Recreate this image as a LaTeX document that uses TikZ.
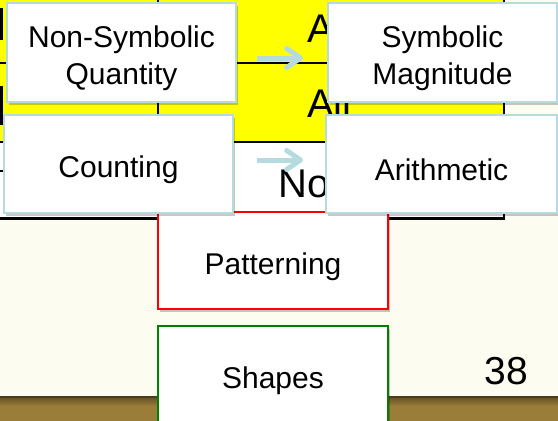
\documentclass[tikz,border=0pt]{standalone}
\usepackage{fontspec}
\setmainfont{Liberation Sans}
\usetikzlibrary{arrows.meta,shadows,calc}
\definecolor{cream}{HTML}{FDFCF1}
\definecolor{tyellow}{HTML}{FFFF00}
\definecolor{lblue}{HTML}{B5DBDF}
\definecolor{bbar}{HTML}{9B7D3A}
\definecolor{bdark}{HTML}{5E4C22}
\definecolor{sgreen}{HTML}{008000}
\definecolor{sred}{HTML}{FF0000}
\newcommand\boxfont{\fontsize{30}{37}\selectfont}
\newcommand\tabfont{\fontsize{40}{40}\selectfont}
\newcommand\lowr{\rule{0pt}{34pt}}
\begin{document}
\begin{tikzpicture}[x=1pt,y=-1pt,
  shadowed/.style={drop shadow={shadow xshift=2pt,shadow yshift=-3pt,opacity=0.22,fill=black}},
  lbbox/.style={rectangle,draw=lblue,line width=1.8pt,fill=white,inner sep=0pt,align=center,font=\boxfont,shadowed},
  redbox/.style={lbbox,draw=sred,line width=2.2pt},
  greenbox/.style={lbbox,draw=sgreen,line width=2.2pt},
  tabline/.style={line width=2pt,black},
  tabtxt/.style={inner sep=0pt,font=\tabfont,anchor=base west},
  arr/.style={draw=lblue,line width=5pt,-{Straight Barb[length=14pt,width=19pt,round]}}
]
\useasboundingbox (0,0) rectangle (558,421);
% background
\fill[cream] (0,0) rectangle (558,421);
% bottom bar
\fill[bbar] (0,396) rectangle (558,421);
\shade[top color=bdark,bottom color=bbar] (0,396) rectangle (558,406);
\fill[bdark!80!black] (0,395.5) rectangle (558,397.5);
% table behind
\fill[tyellow] (0,-5) rectangle (504,142);
\fill[white] (0,142) rectangle (504,218.5);
\draw[tabline] (0,63) -- (504,63);
\draw[tabline] (0,142) -- (504,142);
\draw[tabline,line width=2.6pt] (0,218.5) -- (505,218.5);
\draw[tabline] (158,-2) -- (158,218.5);
\draw[tabline] (504,-2) -- (504,219.8);
\draw[line width=3pt] (1.5,8) -- (1.5,40);
\draw[line width=3pt] (1.5,86) -- (1.5,125);
\draw[line width=1.5pt] (0,171) -- (3,171);
\node[tabtxt] (t1) at (307,42) {A};
\node[tabtxt] (t2) at (307,117) {All};
\node[tabtxt] (t3) at (278,197) {No};
% lower boxes
\node[redbox,minimum width=230pt,minimum height=97pt] (pat) at (273,260.5) {\lowr Patterning};
\node[greenbox,minimum width=230pt,minimum height=97pt] (shp) at (273,374.5) {\lowr Shapes};
% upper boxes
\node[lbbox,minimum width=229pt,minimum height=99pt] (ns) at (121.5,52.5) {\lowr Non-Symbolic\\Quantity};
\node[lbbox,minimum width=229pt,minimum height=99pt] (sm) at (442.5,52.5) {\lowr Symbolic\\Magnitude};
\node[lbbox,minimum width=229pt,minimum height=98pt] (ct) at (118.5,164) {\lowr Counting};
\node[lbbox,minimum width=231pt,minimum height=98pt] (ar) at (441.5,164) {\lowr Arithmetic};
% arrows
\draw[arr] ($(ns.east)+(20,5.5)$) -- ($(sm.west)+(-24,5.5)$);
\draw[arr] ($(ct.east)+(23,-4)$) -- ($(ar.west)+(-22,-4)$);
% page number
\node[inner sep=0pt,font=\fontsize{39}{39}\selectfont] (pg) at (506.5,371) {38};
\end{tikzpicture}
\end{document}
